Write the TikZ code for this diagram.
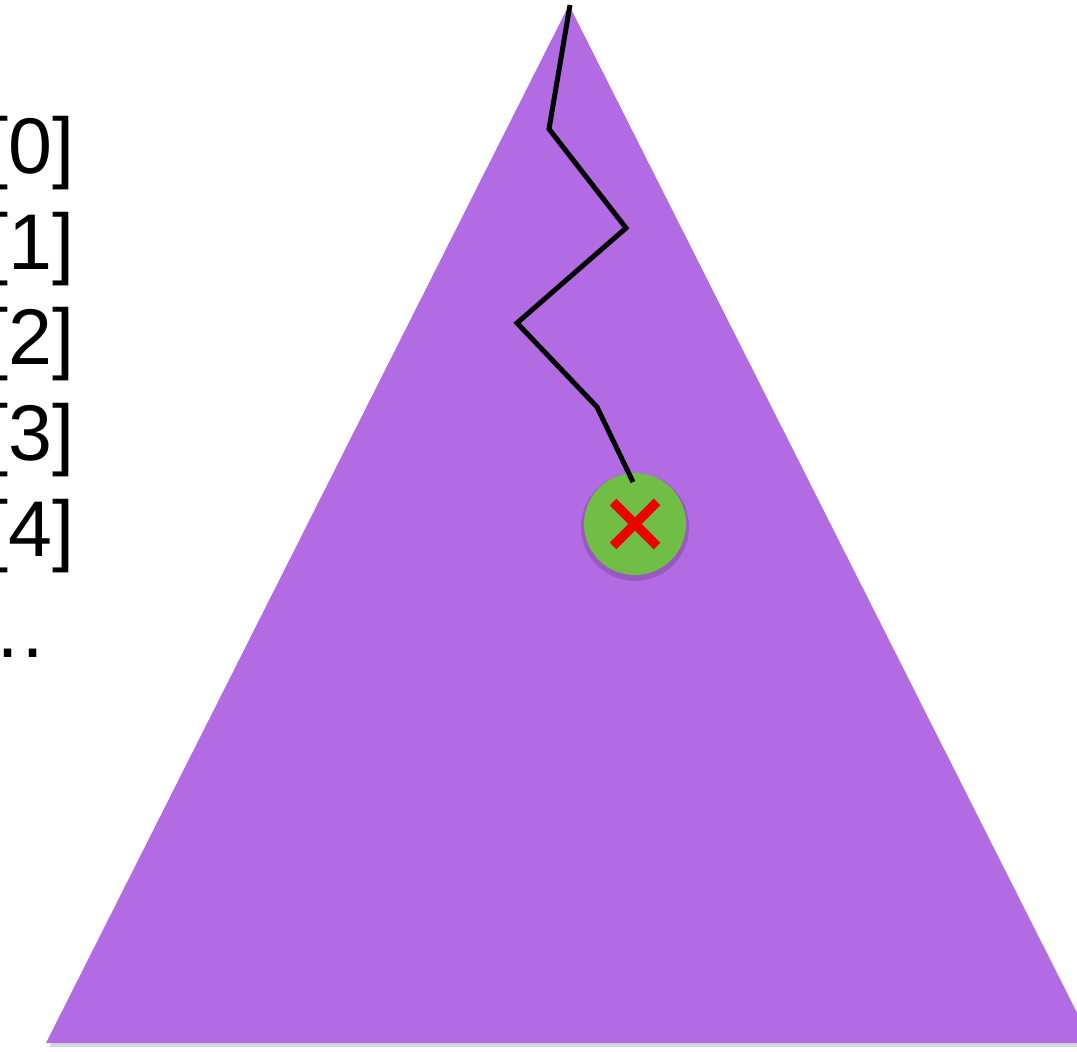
\documentclass[tikz,border=0pt]{standalone}
\usepackage{fontspec}
\setmainfont{Liberation Sans}
\usetikzlibrary{shadows}
\definecolor{treepurple}{RGB}{179,107,227}
\definecolor{nodegreen}{RGB}{112,190,70}
\definecolor{crossred}{RGB}{236,0,0}
\tikzset{
  idx/.style={anchor=base east,inner sep=0pt,font=\fontsize{79}{95}\selectfont},
  walk/.style={line width=5pt,black,line cap=butt,line join=miter},
  cross/.style={crossred,line width=9.5pt},
}
\begin{document}
\begin{tikzpicture}[x=1pt,y=-1pt]
				\useasboundingbox (0,0) rectangle (1077,1052);
				\clip (0,0) rectangle (1077,1052);
				% Baum
				\fill[black!30,opacity=0.5] (569,8)--(49,1047)--(1095,1047)--cycle;
				\fill[treepurple] (569,5) coordinate (apex)--(46,1043)--(1092,1043)--cycle;
				% Indizes
				\node[idx] (i0) at (75,173) {[0]};
				\node[idx] (i1) at (75,269) {[1]};
				\node[idx] (i2) at (75,364) {[2]};
				\node[idx] (i3) at (75,460) {[3]};
				\node[idx] (i4) at (75,556) {[4]};
				\node[idx] (id) at (48,657) {…};
				% Knoten
				\fill[black!60!treepurple,opacity=0.25] (635,527) circle (54);
				\node[circle,fill=nodegreen,minimum size=102pt,inner sep=0pt] (hit) at (635,524) {};
				\draw[cross] (hit.center)+(-22,-22)--+(22,22);
				\draw[cross] (hit.center)+(-22,22)--+(22,-22);
				% Pfad
				\coordinate (p0) at (570,5);
				\coordinate (p1) at (549,129);
				\coordinate (p2) at (626,228);
				\coordinate (p3) at (517,323);
				\coordinate (p4) at (597,407);
				\coordinate (p5) at (633,482);
				\draw[walk] (p0)--(p1)--(p2)--(p3)--(p4)--(p5);
		\end{tikzpicture}
\end{document}
